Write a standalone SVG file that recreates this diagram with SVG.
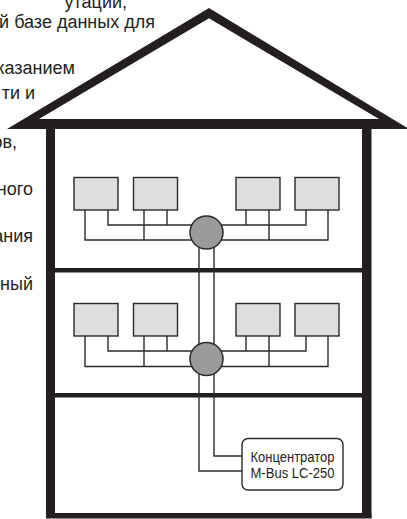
<svg xmlns="http://www.w3.org/2000/svg" width="407" height="519" viewBox="0 0 407 519">
<style>
.t{font-family:"Liberation Sans",Arial,sans-serif;font-size:18px;fill:#231f20}
.ct{font-family:"Liberation Sans",Arial,sans-serif;font-size:14.5px;fill:#231f20}
.wall{fill:#231f20}
.dev{fill:#dedede;stroke:#2b2b2b;stroke-width:1.4}
.hub{fill:#9a9a9a;stroke:#2b2b2b;stroke-width:1.5}
.w{fill:none;stroke:#2b2b2b;stroke-width:1.4}
</style>
<rect width="407" height="519" fill="#fff"/>
<g id="background-text">
<text class="t" x="127" y="8" text-anchor="end">утации,</text>
<text class="t" x="155" y="28" text-anchor="end">й базе данных для</text>
<text class="t" x="75" y="74" text-anchor="end">казанием</text>
<text class="t" x="35" y="99" text-anchor="end">ти и</text>
<text class="t" x="17" y="148" text-anchor="end">ов,</text>
<text class="t" x="33" y="195" text-anchor="end">ного</text>
<text class="t" x="33" y="242" text-anchor="end">ания</text>
<text class="t" x="33" y="290" text-anchor="end">ьный</text>
</g>
<g id="house">
<rect x="46" y="125" width="325" height="393" fill="#fff"/>
<path class="wall" fill-rule="evenodd" d="M7,129 L209,8 L409,129 Z M39,119 L379,119 L209,18.3 Z"/>
<rect class="wall" x="46" y="129" width="9" height="389"/>
<rect class="wall" x="362" y="129" width="9.5" height="389"/>
<rect class="wall" x="46" y="513" width="325.5" height="5.5"/>
<rect class="wall" x="55" y="268" width="307" height="4.5"/>
<rect class="wall" x="55" y="393" width="307" height="4.5"/>
</g>
<g id="connectors">
<path class="w" d="M85,210V240H328V210M108,210V225H306V210M144,210V240M167,210V225M246,210V225M269,210V240"/>
<path class="w" d="M85,336V366.5H328V336M108,336V351H306V336M144,336V366.5M167,336V351M246,336V351M269,336V366.5"/>
<path class="w" d="M199,232V471H242M214,232V456H242"/>
</g>
<g id="floor2-devices">
<rect class="dev" x="74" y="177.5" width="44" height="32.5"/>
<rect class="dev" x="133.5" y="177.5" width="44" height="32.5"/>
<rect class="dev" x="236" y="177.5" width="44" height="32.5"/>
<rect class="dev" x="295" y="177.5" width="44" height="32.5"/>
</g>
<g id="floor2-hub"><circle class="hub" cx="206.5" cy="232.5" r="16.5"/></g>
<g id="floor1-devices">
<rect class="dev" x="74" y="303.5" width="44" height="32.5"/>
<rect class="dev" x="133.5" y="303.5" width="44" height="32.5"/>
<rect class="dev" x="236" y="303.5" width="44" height="32.5"/>
<rect class="dev" x="295" y="303.5" width="44" height="32.5"/>
</g>
<g id="floor1-hub"><circle class="hub" cx="206.5" cy="359" r="16.5"/></g>
<g id="concentrator">
<rect x="242" y="438.5" width="101" height="51.5" rx="6" fill="#fff" stroke="#2b2b2b" stroke-width="1.4"/>
<text class="ct" x="250.5" y="462" textLength="84" lengthAdjust="spacingAndGlyphs">Концентратор</text>
<text class="ct" x="250.5" y="477.5" textLength="84" lengthAdjust="spacingAndGlyphs">M-Bus LC-250</text>
</g>
</svg>
